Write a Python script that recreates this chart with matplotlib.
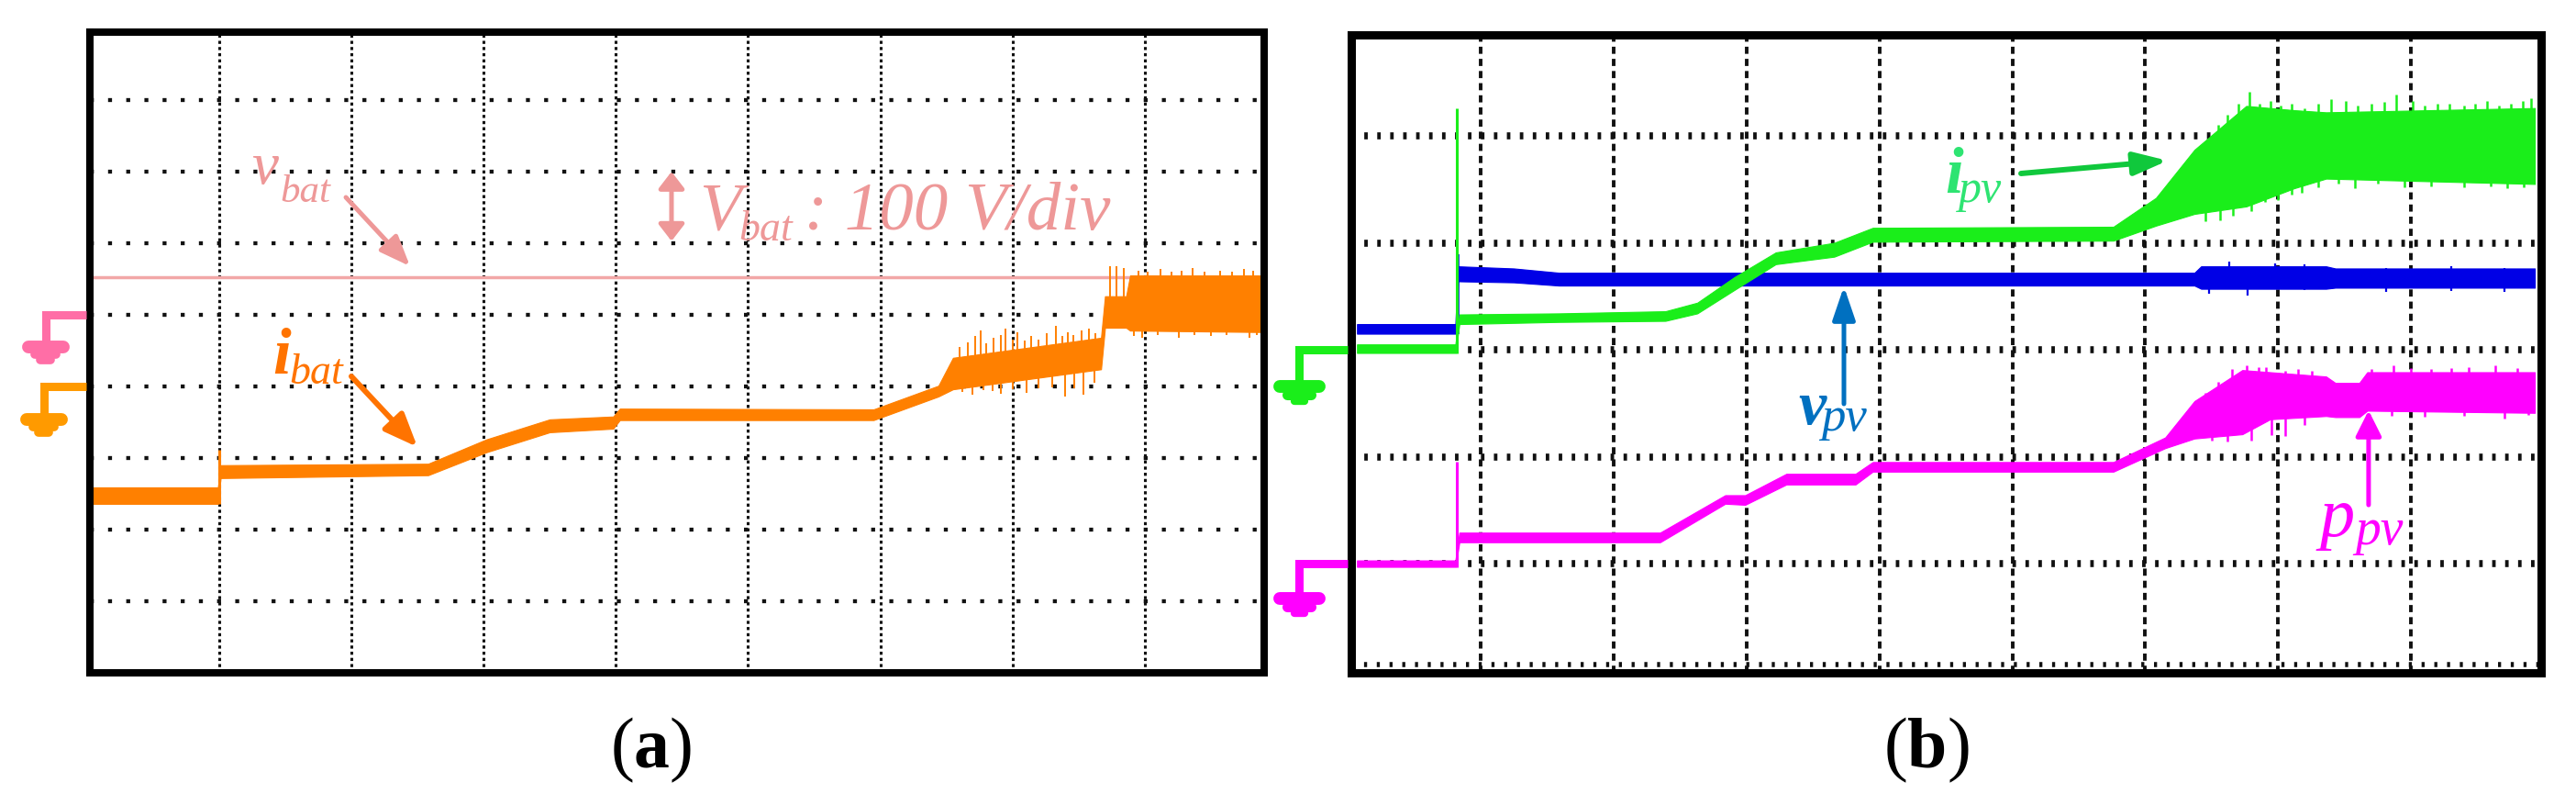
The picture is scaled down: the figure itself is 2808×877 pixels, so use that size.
import matplotlib
matplotlib.use('Agg')
import matplotlib.pyplot as plt
import numpy as np
from matplotlib.lines import Line2D
from matplotlib.transforms import IdentityTransform

# scope traces, in screen divisions
# (a) battery
t_ibat  = [0.04, 0.99, 1.01, 2.58, 3.02, 3.50, 3.98, 4.03, 5.95, 6.44, 6.55, 7.67, 7.70, 7.86, 7.89, 8.87]
ibat_hi = [2.59, 2.59, 2.90, 2.92, 3.26, 3.54, 3.58, 3.69, 3.68, 4.01, 4.40, 4.68, 5.26, 5.26, 5.55, 5.55]
ibat_lo = [2.36, 2.36, 2.72, 2.76, 3.08, 3.36, 3.41, 3.53, 3.53, 3.86, 3.96, 4.24, 4.82, 4.82, 4.78, 4.76]
ibat_spk_x  = [6.60, 6.66, 6.72, 6.76, 6.80, 6.86, 6.91, 6.95, 7.00, 7.04, 7.09, 7.14, 7.20, 7.26, 7.33,
               7.38, 7.42, 7.46, 7.52, 7.58, 7.63, 7.74, 7.79, 7.84, 7.95, 8.02, 8.12, 8.20, 8.28, 8.36,
               8.45, 8.57, 8.66, 8.75, 8.82]
ibat_spk_hi = [4.55, 4.62, 4.70, 4.78, 4.60, 4.68, 4.72, 4.81, 4.66, 4.76, 4.64, 4.70, 4.66, 4.74, 4.85,
               4.70, 4.75, 4.72, 4.78, 4.81, 4.74, 5.68, 5.68, 5.66, 5.62, 5.60, 5.64, 5.60, 5.62, 5.66,
               5.60, 5.62, 5.60, 5.64, 5.62]
ibat_dip_x  = [6.62, 6.70, 6.78, 6.85, 6.91, 7.00, 7.11, 7.20, 7.30, 7.40, 7.47, 7.54, 7.62,
               7.92, 7.98, 8.10, 8.26, 8.38, 8.50, 8.62, 8.79, 8.85]
ibat_dip_lo = [3.92, 3.88, 3.95, 3.93, 3.90, 3.96, 3.91, 3.98, 3.99, 3.86, 3.98, 3.88, 4.05,
               4.70, 4.68, 4.72, 4.68, 4.72, 4.70, 4.72, 4.68, 4.72]
ibat_step = (1.00, 2.36, 3.12)
vbat_level = 5.53

# (b) PV side
t_ipv  = [0.07, 0.81, 0.84, 1.59, 2.39, 2.63, 2.91, 3.22, 3.66, 3.95, 5.76, 6.08, 6.37, 6.76, 7.12, 7.36, 8.93]
ipv_hi = [3.05, 3.05, 3.33, 3.34, 3.36, 3.44, 3.68, 3.91, 4.00, 4.14, 4.15, 4.42, 4.87, 5.28, 5.24, 5.22, 5.26]
ipv_lo = [2.97, 2.97, 3.24, 3.26, 3.27, 3.34, 3.56, 3.80, 3.87, 4.01, 4.02, 4.16, 4.27, 4.34, 4.51, 4.60, 4.55]
ipv_spk_x  = [6.45, 6.55, 6.62, 6.70, 6.78, 6.86, 6.94, 7.02, 7.10, 7.20, 7.30, 7.40, 7.51, 7.60,
              7.70, 7.80, 7.89, 8.01, 8.10, 8.20, 8.29, 8.40, 8.48, 8.57, 8.66, 8.75, 8.84, 8.90]
ipv_spk_hi = [4.95, 5.10, 5.20, 5.30, 5.41, 5.30, 5.33, 5.28, 5.30, 5.26, 5.30, 5.34, 5.33, 5.28,
              5.30, 5.32, 5.39, 5.33, 5.28, 5.30, 5.30, 5.28, 5.30, 5.33, 5.28, 5.30, 5.33, 5.35]
ipv_dip_x  = [6.45, 6.56, 6.66, 6.80, 6.90, 7.00, 7.10, 7.18, 7.30, 7.45, 7.58, 7.75, 7.95, 8.15,
              8.40, 8.60, 8.72, 8.85]
ipv_dip_lo = [4.20, 4.21, 4.25, 4.30, 4.38, 4.40, 4.45, 4.47, 4.52, 4.55, 4.51, 4.55, 4.52, 4.53,
              4.52, 4.53, 4.51, 4.52]
ipv_step = (0.82, 2.97, 5.26)

t_vpv  = [0.07, 0.81, 0.83, 1.25, 1.59, 6.37, 6.42, 7.36, 7.43, 8.93]
vpv_hi = [3.24, 3.24, 3.78, 3.76, 3.72, 3.72, 3.78, 3.78, 3.76, 3.76]
vpv_lo = [3.15, 3.15, 3.64, 3.63, 3.60, 3.60, 3.57, 3.57, 3.58, 3.58]
vpv_spk_x  = [6.48, 6.63, 6.77, 6.98, 7.20, 7.81, 8.30, 8.70]
vpv_spk_lo = [3.52, 3.60, 3.51, 3.60, 3.56, 3.54, 3.55, 3.54]
vpv_spk_hi = [3.72, 3.82, 3.72, 3.81, 3.80, 3.76, 3.78, 3.76]
vpv_step = (0.83, 3.15, 3.89)

t_ppv  = [0.07, 0.81, 0.84, 2.35, 2.84, 2.99, 3.30, 3.82, 3.95, 5.76, 6.15, 6.37, 6.73, 6.94, 7.36, 7.43, 7.61, 7.67, 8.93]
ppv_hi = [1.03, 1.03, 1.29, 1.29, 1.64, 1.64, 1.84, 1.84, 1.95, 1.95, 2.18, 2.52, 2.81, 2.79, 2.75, 2.69, 2.69, 2.79, 2.79]
ppv_lo = [0.97, 0.97, 1.20, 1.20, 1.56, 1.55, 1.74, 1.74, 1.86, 1.86, 2.08, 2.17, 2.21, 2.35, 2.38, 2.37, 2.37, 2.43, 2.41]
ppv_spk_x  = [6.45, 6.55, 6.65, 6.76, 6.85, 6.91, 7.05, 7.15, 7.25, 7.70, 7.87, 8.00, 8.15, 8.30, 8.43, 8.63, 8.80]
ppv_spk_hi = [2.60, 2.70, 2.82, 2.85, 2.84, 2.84, 2.80, 2.82, 2.80, 2.82, 2.85, 2.83, 2.82, 2.83, 2.84, 2.85, 2.83]
ppv_dip_x  = [6.50, 6.62, 6.80, 6.95, 7.05, 7.20, 7.85, 8.10, 8.40, 8.70, 8.88]
ppv_dip_lo = [2.15, 2.14, 2.15, 2.20, 2.19, 2.30, 2.38, 2.37, 2.38, 2.36, 2.39]
ppv_step = (0.82, 0.97, 1.95)

# channel ground levels (divisions)
gnd_a = {'vbat': 5.0, 'ibat': 4.0}
gnd_b = {'ipv': 3.0, 'ppv': 1.0}

c_vbat, c_vbat_txt = '#F2A7A7', '#EE9898'
c_ibat, c_ibat_txt = '#FF8000', '#FF7300'
c_gnd_pink, c_gnd_orange = '#FF6EA6', '#FF9A00'
c_ipv, c_ipv_txt, c_ipv_arr = '#1AEE1A', '#2EE472', '#10C83C'
c_vpv, c_vpv_txt = '#0000E6', '#0070C0'
c_ppv = '#FF00FF'

W, H = 2808, 877
fig = plt.figure(figsize=(W / 100, H / 100), dpi=100)
SERIF = 'Liberation Serif'


def px_axes(x0, x1, y0, y1):
	return fig.add_axes([x0 / W, 1 - y1 / H, (x1 - x0) / W, (y1 - y0) / H])


def scope(ax, xlim, ylim, nx, ny, vstyle, hstyle, lw_frame):
	ax.set_xlim(*xlim)
	ax.set_ylim(*ylim)
	ax.set_xticks([])
	ax.set_yticks([])
	for s in ax.spines.values():
		s.set_linewidth(lw_frame)
		s.set_color('black')
		s.set_zorder(5)
	for k in range(1, nx + 1):
		ax.axvline(k, color='#111111', zorder=1, dash_capstyle='butt', **vstyle)
	for k in range(1, ny + 1):
		ax.axhline(k, color='#111111', zorder=1, dash_capstyle='butt', **hstyle)


def trace(ax, t, lo, hi, color, z=3):
	ax.fill_between(t, lo, hi, color=color, lw=0.8, zorder=z)


def grass(ax, t, lo, hi, xs, tips, color, z=3, lw=1.4):
	# noise spikes: from the middle of the band out to the tip
	mid = (np.interp(xs, t, lo) + np.interp(xs, t, hi)) / 2
	ax.vlines(xs, mid, tips, color=color, lw=lw, zorder=z)


def spikes(ax, xs, y0, y1, color, z=3, lw=1.6):
	ax.vlines(xs, y0, y1, color=color, lw=lw, zorder=z)


def label(ax, x, y, main, sub, xs, ys, size, subsize, color, bold=False):
	ax.text(x, y, main, fontsize=size, family=SERIF, style='italic',
		weight='bold' if bold else 'normal', color=color, ha='left', va='baseline', zorder=6)
	ax.text(xs, ys, sub, fontsize=subsize, family=SERIF, style='italic',
		color=color, ha='left', va='baseline', zorder=6)


def arrow(ax, tail, head, color, lw, hl, hw, style='-|>'):
	ax.annotate('', xy=head, xytext=tail,
		arrowprops=dict(arrowstyle='%s,head_length=%g,head_width=%g' % (style, hl, hw),
			color=color, lw=lw, shrinkA=0, shrinkB=0, mutation_scale=1), zorder=6)


def ground(ax, level, color, dx, drop, bars):
	# stem + stacked ground bars, drawn in pixels left of the frame
	fx, fy = ax.transData.transform((ax.get_xlim()[0], level))
	sx = fx - dx
	fig.add_artist(Line2D([fx - 4, sx, sx], [fy, fy, fy - drop], lw=6.5, color=color,
		solid_joinstyle='miter', solid_capstyle='butt', transform=IdentityTransform()))
	for off, half, w in bars:
		fig.add_artist(Line2D([sx - half, sx + half], [fy - off, fy - off], lw=w, color=color,
			solid_capstyle='round', transform=IdentityTransform()))


# ---------------- (a) ----------------
axa = px_axes(97.5, 1378, 35, 732.5)
scope(axa, (0.018, 8.904), (0.006, 8.949), 8, 8,
	dict(lw=2.2, linestyle=(0, (1.1, 1.1))),
	dict(lw=3.1, linestyle=(0, (1.0, 3.6))), 5.8)

axa.axhline(vbat_level, color=c_vbat, lw=2.5, zorder=3)
trace(axa, t_ibat, ibat_lo, ibat_hi, c_ibat, z=4)
grass(axa, t_ibat, ibat_lo, ibat_hi, ibat_spk_x, ibat_spk_hi, c_ibat, z=4)
grass(axa, t_ibat, ibat_lo, ibat_hi, ibat_dip_x, ibat_dip_lo, c_ibat, z=4)
spikes(axa, [ibat_step[0]], ibat_step[1], ibat_step[2], c_ibat, z=4, lw=2.2)

label(axa, 1.243, 6.833, 'v', 'bat', 1.458, 6.577, 47, 31, c_vbat_txt)
arrow(axa, (1.958, 6.641), (2.443, 5.679), c_vbat_txt, 3.6, 20, 8)
arrow(axa, (4.421, 6.03), (4.421, 7.00), c_vbat_txt, 3.6, 11, 8.5, style='<|-|>')
label(axa, 4.629, 6.192, 'V', 'bat', 4.928, 6.038, 54, 33, c_vbat_txt)
axa.text(5.43, 6.192, ': 100 V/div', fontsize=54, family=SERIF, style='italic',
	color=c_vbat_txt, ha='left', va='baseline', zorder=6)
label(axa, 1.402, 4.179, 'i', 'bat', 1.527, 4.038, 51, 33, c_ibat_txt, bold=True)
arrow(axa, (1.999, 4.141), (2.499, 3.154), c_ibat_txt, 4.3, 22, 9)

# ---------------- (b) ----------------
axb = px_axes(1473, 2770, 38, 733)
scope(axb, (0.027, 8.978), (-0.021, 5.944), 8, 5,
	dict(lw=2.8, linestyle=(0, (2.0, 1.4))),
	dict(lw=5.5, linestyle=(0, (0.5, 1.35))), 6.5)
axb.axhline(0.06, color='#111111', lw=4.0, linestyle=(0, (0.6, 1.9)), zorder=1)

trace(axb, t_vpv, vpv_lo, vpv_hi, c_vpv, z=3)
spikes(axb, vpv_spk_x, vpv_spk_lo, vpv_spk_hi, c_vpv, z=3)
spikes(axb, [vpv_step[0]], vpv_step[1], vpv_step[2], c_vpv, z=3, lw=2.6)
trace(axb, t_ipv, ipv_lo, ipv_hi, c_ipv, z=4)
grass(axb, t_ipv, ipv_lo, ipv_hi, ipv_spk_x, ipv_spk_hi, c_ipv, z=4, lw=1.8)
grass(axb, t_ipv, ipv_lo, ipv_hi, ipv_dip_x, ipv_dip_lo, c_ipv, z=4, lw=1.8)
spikes(axb, [ipv_step[0]], ipv_step[1], ipv_step[2], c_ipv, z=4, lw=2.2)
trace(axb, t_ppv, ppv_lo, ppv_hi, c_ppv, z=4)
grass(axb, t_ppv, ppv_lo, ppv_hi, ppv_spk_x, ppv_spk_hi, c_ppv, z=4, lw=1.8)
grass(axb, t_ppv, ppv_lo, ppv_hi, ppv_dip_x, ppv_dip_lo, c_ppv, z=4, lw=1.8)
spikes(axb, [ppv_step[0]], ppv_step[1], ppv_step[2], c_ppv, z=4, lw=2.2)

label(axb, 4.492, 4.468, 'i', 'pv', 4.596, 4.382, 51, 36, c_ipv_txt, bold=True)
arrow(axb, (5.065, 4.648), (6.169, 4.768), c_ipv_arr, 4.3, 22, 7.5)
label(axb, 3.388, 2.305, 'v', 'pv', 3.560, 2.245, 49, 38, c_vpv_txt, bold=True)
arrow(axb, (3.733, 2.494), (3.733, 3.592), c_vpv_txt, 3.6, 22, 7.5)
label(axb, 7.308, 1.258, 'p', 'pv', 7.577, 1.180, 55, 40, c_ppv)
arrow(axb, (7.680, 1.549), (7.680, 2.433), c_ppv, 3.6, 17, 8.5)

# probe ground markers
ground(axa, gnd_a['vbat'], c_gnd_pink, 48, 32, [(35, 19, 10), (43, 11.5, 7), (49.5, 5.5, 7)])
ground(axa, gnd_a['ibat'], c_gnd_orange, 50, 32, [(36, 19, 10), (44, 11.5, 7), (50.5, 5.5, 7)])
ground(axb, gnd_b['ipv'], c_ipv, 57, 36, [(40, 21.5, 10), (49, 13, 8), (55.5, 5.5, 6)])
ground(axb, gnd_b['ppv'], c_ppv, 57, 36, [(38, 21.5, 10), (47, 13, 8), (53.5, 5.5, 6)])

# panel captions
plt.rcParams['mathtext.fontset'] = 'custom'
plt.rcParams['mathtext.rm'] = SERIF
plt.rcParams['mathtext.bf'] = SERIF + ':bold'
fig.text(710 / W, 41 / H, r'($\mathbf{a}$)', fontsize=56, family=SERIF, ha='center', va='baseline')
fig.text(2100 / W, 41 / H, r'($\mathbf{b}$)', fontsize=56, family=SERIF, ha='center', va='baseline')

fig.savefig('out.png', dpi=100)
